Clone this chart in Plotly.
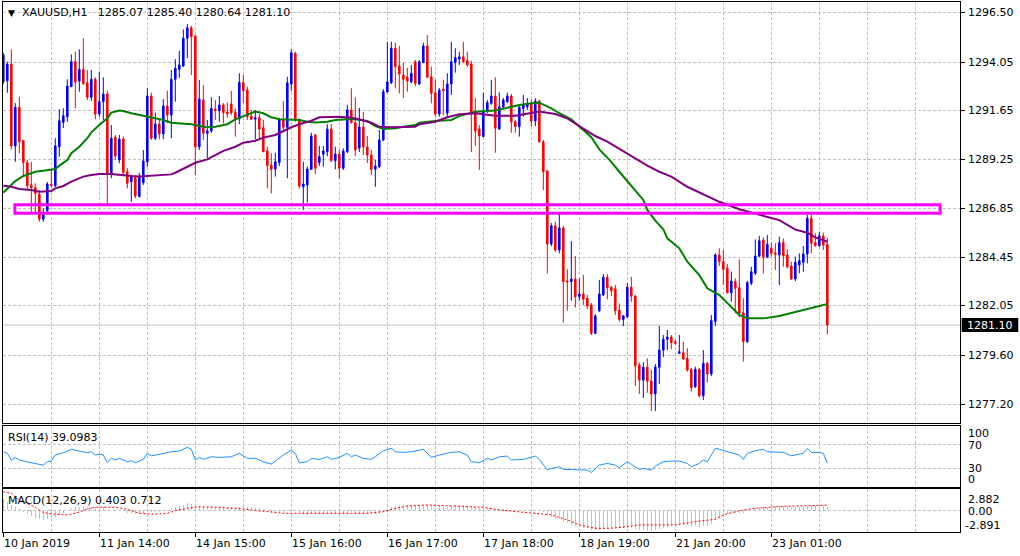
import plotly.graph_objects as go
from plotly.subplots import make_subplots

FONT = "DejaVu Sans"
GRID = "#C0C0C0"
GRID_DASH = "3px,2px"

# ---------------- data (XAUUSD H1) ----------------
symbol_title = "XAUUSD,H1"
last_ohlc = "1285.07 1285.40 1280.64 1281.10"
time_labels = ["10 Jan 2019", "11 Jan 14:00", "14 Jan 15:00", "15 Jan 16:00", "16 Jan 17:00",
               "17 Jan 18:00", "18 Jan 19:00", "21 Jan 20:00", "23 Jan 01:00"]
time_label_bars = [0, 24, 48, 72, 96, 120, 144, 168, 192]

opens = [
    1293.08, 1293.13, 1293.95, 1289.92, 1291.82, 1290.18, 1289.10, 1288.00, 1287.86, 1287.55,
    1286.32, 1286.73, 1288.03, 1287.96, 1289.88, 1291.08, 1291.36, 1292.84, 1294.07, 1293.12,
    1293.69, 1293.03, 1292.32, 1293.20, 1291.49, 1292.10, 1292.48, 1288.54, 1290.35, 1289.23,
    1290.26, 1288.65, 1288.16, 1288.41, 1287.42, 1288.11, 1289.14, 1292.38, 1290.30, 1291.00,
    1290.51, 1291.89, 1291.44, 1293.20, 1293.69, 1293.86, 1295.22, 1295.74, 1295.33, 1289.88,
    1292.18, 1290.54, 1290.66, 1291.74, 1291.66, 1291.94, 1291.59, 1291.99, 1291.59, 1291.25,
    1293.05, 1292.67, 1291.39, 1291.23, 1291.31, 1290.82, 1289.67, 1288.98, 1288.78, 1289.10,
    1291.23, 1290.84, 1292.97, 1294.48, 1291.23, 1287.91, 1288.00, 1288.77, 1290.46, 1289.10,
    1289.51, 1289.64, 1290.75, 1289.19, 1289.52, 1288.82, 1289.64, 1291.69, 1291.06, 1289.82,
    1290.85, 1289.87, 1289.47, 1288.77, 1288.90, 1290.21, 1292.58, 1293.03, 1294.73, 1293.86,
    1293.41, 1293.30, 1293.08, 1294.07, 1292.97, 1294.02, 1294.84, 1293.33, 1292.54, 1291.49,
    1292.71, 1291.53, 1292.97, 1294.04, 1294.20, 1294.31, 1294.12, 1293.95, 1291.64, 1290.75,
    1290.38, 1291.61, 1292.02, 1292.38, 1290.75, 1291.84, 1292.10, 1292.38, 1291.11, 1290.87,
    1291.76, 1291.84, 1292.02, 1291.15, 1292.13, 1290.13, 1288.69, 1285.09, 1285.99, 1284.80,
    1285.88, 1283.27, 1283.24, 1283.37, 1282.50, 1282.63, 1282.42, 1282.09, 1280.69, 1281.81,
    1282.58, 1283.45, 1282.96, 1282.88, 1281.84, 1281.38, 1281.51, 1282.96, 1282.53, 1279.13,
    1278.39, 1279.02, 1278.35, 1277.71, 1279.02, 1279.87, 1280.40, 1280.51, 1280.28, 1279.71,
    1279.74, 1279.46, 1278.92, 1278.07, 1278.92, 1277.62, 1279.22, 1278.69, 1281.27, 1284.55,
    1284.22, 1283.90, 1282.69, 1283.24, 1282.94, 1281.71, 1280.28, 1283.16, 1283.65, 1284.50,
    1285.29, 1284.44, 1284.88, 1284.66, 1284.55, 1285.16, 1284.55, 1284.01, 1283.37, 1284.06,
    1284.19, 1284.60, 1286.36, 1285.16, 1285.01, 1285.49, 1285.07]

highs = [
    1294.50, 1294.07, 1294.68, 1292.03, 1292.34, 1290.21, 1289.23, 1289.14, 1288.08, 1287.75,
    1286.85, 1288.14, 1288.74, 1290.30, 1291.72, 1291.77, 1293.20, 1294.43, 1294.56, 1294.68,
    1295.22, 1293.66, 1293.66, 1293.30, 1293.58, 1293.30, 1292.64, 1290.95, 1290.46, 1290.46,
    1290.38, 1288.83, 1288.49, 1288.49, 1288.59, 1289.72, 1292.76, 1292.54, 1291.56, 1291.20,
    1292.22, 1292.64, 1293.66, 1294.19, 1294.60, 1295.66, 1295.92, 1295.83, 1295.38, 1293.17,
    1292.92, 1291.20, 1292.32, 1292.18, 1292.38, 1292.03, 1292.05, 1292.63, 1291.77, 1293.50,
    1293.41, 1292.84, 1291.69, 1291.69, 1291.49, 1291.20, 1289.88, 1289.56, 1289.59, 1291.31,
    1292.13, 1293.33, 1294.68, 1294.56, 1291.28, 1289.14, 1288.90, 1290.57, 1290.51, 1289.92,
    1289.92, 1290.99, 1291.00, 1289.88, 1289.72, 1289.80, 1291.94, 1292.76, 1292.32, 1291.79,
    1291.59, 1290.41, 1289.72, 1289.23, 1290.71, 1292.72, 1295.05, 1295.05, 1295.00, 1294.84,
    1294.02, 1293.77, 1293.91, 1294.15, 1294.15, 1295.00, 1295.38, 1293.82, 1293.17, 1292.77,
    1293.17, 1293.50, 1295.05, 1294.73, 1294.56, 1295.05, 1294.56, 1294.12, 1292.27, 1290.95,
    1292.54, 1292.18, 1293.17, 1293.30, 1292.56, 1292.28, 1292.54, 1292.48, 1291.20, 1291.94,
    1292.43, 1292.28, 1292.18, 1292.27, 1292.18, 1290.21, 1288.74, 1286.13, 1286.19, 1286.60,
    1285.98, 1283.85, 1285.24, 1284.50, 1283.40, 1283.57, 1282.58, 1282.19, 1281.64, 1283.32,
    1283.61, 1283.61, 1283.02, 1283.07, 1282.17, 1281.60, 1283.17, 1283.48, 1282.58, 1279.25,
    1279.27, 1279.46, 1278.89, 1279.18, 1281.05, 1280.61, 1280.86, 1280.61, 1280.36, 1280.61,
    1280.28, 1279.96, 1278.99, 1279.05, 1278.99, 1279.87, 1279.28, 1281.60, 1284.63, 1284.88,
    1284.80, 1284.11, 1283.73, 1283.40, 1284.34, 1282.42, 1283.28, 1283.97, 1285.32, 1285.49,
    1285.42, 1285.53, 1285.16, 1285.13, 1285.45, 1285.37, 1284.83, 1284.22, 1284.47, 1284.63,
    1284.99, 1286.52, 1286.55, 1285.62, 1285.70, 1285.65, 1285.40]

lows = [
    1292.97, 1292.54, 1289.75, 1289.14, 1289.56, 1288.41, 1287.75, 1286.57, 1286.60, 1286.19,
    1286.19, 1286.67, 1287.90, 1287.90, 1289.39, 1290.80, 1291.11, 1292.82, 1291.77, 1292.59,
    1292.92, 1292.18, 1292.13, 1291.23, 1291.36, 1291.20, 1287.01, 1288.33, 1289.23, 1289.07,
    1288.49, 1287.83, 1287.17, 1287.34, 1287.41, 1288.00, 1288.90, 1290.21, 1290.21, 1290.25,
    1290.25, 1291.03, 1290.30, 1292.10, 1293.27, 1293.81, 1294.24, 1293.41, 1288.49, 1289.72,
    1290.21, 1289.33, 1290.56, 1291.20, 1291.11, 1291.03, 1291.30, 1291.44, 1290.38, 1291.00,
    1292.05, 1291.20, 1291.20, 1290.25, 1290.25, 1289.61, 1287.83, 1287.59, 1288.41, 1288.93,
    1290.62, 1288.33, 1292.64, 1291.11, 1287.83, 1286.77, 1287.13, 1288.74, 1288.54, 1288.93,
    1288.90, 1289.42, 1289.14, 1288.77, 1288.33, 1288.74, 1289.56, 1291.03, 1289.42, 1289.62,
    1289.47, 1289.08, 1288.49, 1287.91, 1288.83, 1290.16, 1292.53, 1292.97, 1292.76, 1292.51,
    1292.27, 1292.59, 1293.00, 1292.87, 1292.92, 1294.00, 1293.27, 1292.02, 1291.36, 1291.36,
    1291.44, 1291.36, 1292.43, 1293.53, 1293.91, 1293.99, 1293.82, 1289.62, 1289.92, 1288.74,
    1290.36, 1291.54, 1291.94, 1289.59, 1290.71, 1291.77, 1292.03, 1290.57, 1290.57, 1290.38,
    1291.36, 1291.69, 1290.87, 1290.90, 1290.07, 1287.75, 1283.65, 1284.99, 1284.70, 1284.63,
    1281.22, 1281.81, 1282.30, 1281.96, 1282.30, 1282.09, 1281.89, 1280.61, 1280.66, 1281.74,
    1282.53, 1282.37, 1282.53, 1281.60, 1281.27, 1281.05, 1281.45, 1282.24, 1278.10, 1277.71,
    1277.51, 1277.77, 1276.87, 1276.87, 1278.20, 1279.53, 1279.87, 1279.91, 1280.12, 1279.68,
    1279.38, 1278.80, 1277.82, 1278.00, 1277.54, 1277.41, 1278.26, 1278.59, 1281.05, 1284.01,
    1283.07, 1282.66, 1282.25, 1281.68, 1281.48, 1279.30, 1280.22, 1283.07, 1283.57, 1284.45,
    1283.65, 1284.40, 1284.47, 1283.81, 1283.07, 1283.97, 1283.90, 1283.32, 1283.27, 1283.65,
    1283.73, 1284.14, 1284.63, 1284.96, 1284.96, 1284.80, 1280.64]

closes = [
    1294.40, 1293.95, 1289.92, 1291.82, 1290.13, 1289.10, 1287.96, 1287.86, 1287.59, 1286.32,
    1286.52, 1288.05, 1287.96, 1289.92, 1291.16, 1291.41, 1292.87, 1294.07, 1293.08, 1293.69,
    1293.00, 1292.32, 1293.20, 1291.49, 1292.10, 1292.48, 1288.54, 1290.30, 1289.42, 1290.26,
    1288.62, 1288.08, 1288.41, 1287.46, 1288.41, 1289.18, 1292.38, 1290.30, 1291.00, 1290.51,
    1291.89, 1291.44, 1293.20, 1293.74, 1293.91, 1295.22, 1295.74, 1295.30, 1289.88, 1292.23,
    1290.54, 1290.66, 1291.77, 1291.66, 1291.94, 1291.56, 1291.51, 1291.56, 1291.25, 1293.05,
    1292.64, 1291.36, 1291.23, 1291.31, 1290.75, 1289.64, 1288.95, 1288.77, 1289.14, 1291.23,
    1290.84, 1293.03, 1294.51, 1291.20, 1287.95, 1288.05, 1288.78, 1290.41, 1288.82, 1289.39,
    1289.67, 1290.75, 1289.19, 1289.52, 1288.82, 1289.67, 1291.69, 1291.06, 1289.72, 1290.85,
    1289.87, 1289.47, 1288.77, 1288.93, 1290.21, 1292.59, 1293.07, 1294.73, 1293.82, 1293.46,
    1293.20, 1293.12, 1293.50, 1293.00, 1294.07, 1294.84, 1293.30, 1292.51, 1291.49, 1292.67,
    1292.64, 1292.97, 1294.07, 1294.27, 1294.31, 1294.07, 1293.91, 1291.57, 1290.66, 1290.41,
    1291.66, 1292.05, 1292.38, 1290.79, 1291.85, 1292.18, 1292.38, 1291.11, 1290.87, 1291.82,
    1291.96, 1292.01, 1291.15, 1292.13, 1290.13, 1288.65, 1285.09, 1285.99, 1284.80, 1285.88,
    1283.24, 1283.23, 1283.37, 1282.50, 1282.63, 1282.38, 1282.04, 1280.69, 1281.55, 1282.63,
    1283.45, 1282.94, 1282.79, 1281.81, 1281.38, 1281.55, 1282.96, 1282.52, 1279.10, 1278.39,
    1279.02, 1278.33, 1277.71, 1279.04, 1279.87, 1280.40, 1280.51, 1280.23, 1280.20, 1279.79,
    1279.43, 1278.89, 1278.02, 1278.92, 1277.62, 1279.22, 1278.69, 1281.32, 1284.55, 1284.22,
    1283.85, 1282.69, 1283.27, 1282.91, 1281.68, 1280.28, 1283.19, 1283.73, 1284.50, 1285.25,
    1284.44, 1285.08, 1284.63, 1284.58, 1285.16, 1284.50, 1283.97, 1283.37, 1284.19, 1284.27,
    1284.60, 1286.36, 1285.13, 1285.01, 1285.49, 1285.04, 1281.10]

bars = list(range(len(closes)))

# moving averages (green = faster, purple = slower), read at sample bars
ma_fast_bars = [0, 2, 3, 5, 7, 8, 10, 12, 13, 14, 16, 17, 19, 21, 22, 24, 26, 27, 29, 30, 32, 35, 37, 40,
                42, 45, 47, 50, 52, 53, 56, 58, 61, 63, 65, 67, 69, 72, 74, 76, 78, 81, 83, 86, 88, 91,
                93, 95, 98, 100, 103, 104, 108, 112, 114, 118, 123, 126, 129, 132, 134, 137, 139, 142,
                144, 147, 149, 152, 154, 157, 160, 161, 163, 165, 166, 169, 171, 174, 176, 179, 181,
                184, 186, 190, 194, 197, 200, 205, 206]
ma_fast_vals = [1287.62, 1288.00, 1288.19, 1288.44, 1288.57, 1288.65, 1288.70, 1288.74, 1288.78, 1288.95,
                1289.23, 1289.56, 1289.88, 1290.30, 1290.59, 1290.95, 1291.28, 1291.56, 1291.66, 1291.64,
                1291.53, 1291.41, 1291.33, 1291.20, 1291.06, 1291.02, 1290.99, 1290.87, 1290.84, 1290.87,
                1290.99, 1291.23, 1291.44, 1291.61, 1291.53, 1291.33, 1291.23, 1291.23, 1291.20, 1291.11,
                1291.08, 1291.11, 1291.20, 1291.23, 1291.23, 1291.15, 1290.90, 1290.75, 1290.79, 1290.87,
                1290.95, 1291.06, 1291.15, 1291.20, 1291.39, 1291.61, 1291.66, 1291.80, 1291.94, 1292.02,
                1292.05, 1291.77, 1291.53, 1291.23, 1290.87, 1290.35, 1289.75, 1289.14, 1288.65, 1287.95,
                1287.26, 1286.77, 1286.24, 1285.82, 1285.37, 1284.88, 1284.22, 1283.56, 1282.91, 1282.58,
                1282.17, 1281.60, 1281.43, 1281.43, 1281.55, 1281.68, 1281.84, 1282.09, 1282.12]

ma_slow_bars = [0, 2, 4, 7, 9, 12, 13, 15, 17, 20, 22, 24, 27, 29, 32, 34, 37, 39, 42, 43, 46, 48, 51, 53,
                55, 58, 60, 63, 65, 68, 70, 72, 74, 77, 79, 82, 84, 87, 89, 92, 94, 97, 100, 103, 104,
                108, 111, 114, 118, 123, 128, 132, 134, 138, 141, 144, 148, 151, 154, 161, 164, 167, 171,
                175, 179, 184, 189, 194, 198, 201, 203, 206]
ma_slow_vals = [1287.96, 1287.91, 1287.80, 1287.75, 1287.67, 1287.70, 1287.83, 1287.95, 1288.16, 1288.41,
                1288.49, 1288.54, 1288.54, 1288.49, 1288.44, 1288.41, 1288.46, 1288.49, 1288.52, 1288.60,
                1288.87, 1289.09, 1289.26, 1289.47, 1289.68, 1289.88, 1290.08, 1290.18, 1290.33, 1290.46,
                1290.66, 1290.84, 1290.99, 1291.16, 1291.33, 1291.36, 1291.36, 1291.31, 1291.23, 1291.06,
                1290.87, 1290.84, 1290.84, 1290.87, 1290.99, 1291.11, 1291.33, 1291.48, 1291.53, 1291.41,
                1291.41, 1291.56, 1291.61, 1291.49, 1291.28, 1290.90, 1290.41, 1290.13, 1289.77, 1288.95,
                1288.65, 1288.41, 1287.91, 1287.55, 1287.17, 1286.80, 1286.52, 1286.27, 1285.80, 1285.65,
                1285.42, 1285.20]

# highlighted resistance zone
zone_low, zone_high = 1286.61, 1287.03
zone_start_bar, zone_end_bar = 2.9, 234.2
last_price = 1281.10

price_tick_labels = ["1296.50", "1294.05", "1291.65", "1289.25", "1286.85",
                     "1284.45", "1282.05", "1279.60", "1277.20"]

# RSI(14)
rsi_bars = [0, 1, 2, 3, 4, 6, 7, 10, 11, 12, 13, 15, 17, 19, 21, 22, 23, 24, 25, 26, 27, 28, 29, 31, 32,
            33, 35, 36, 37, 39, 40, 42, 44, 46, 47, 48, 49, 50, 52, 54, 57, 59, 61, 63, 65, 67, 68, 70,
            72, 73, 74, 76, 77, 79, 81, 82, 84, 86, 87, 88, 90, 92, 93, 95, 97, 98, 100, 102, 105, 106,
            107, 109, 112, 114, 116, 117, 119, 121, 122, 124, 126, 127, 130, 132, 133, 134, 136, 137,
            139, 140, 142, 144, 146, 147, 149, 151, 153, 154, 156, 157, 159, 160, 162, 163, 165, 167,
            169, 171, 172, 173, 174, 175, 176, 177, 178, 179, 181, 182, 184, 185, 186, 188, 190, 191,
            193, 195, 197, 199, 200, 201, 202, 204, 205, 206]
rsi_vals = [57.3, 54.7, 43.7, 48.1, 43.7, 39.9, 39.2, 35.4, 40.9, 42.0, 51.9, 55.7, 61.3, 58.5, 55.7,
            57.3, 51.9, 53.5, 51.9, 39.9, 46.5, 43.7, 46.5, 40.9, 42.5, 39.2, 44.8, 54.7, 50.7, 53.0,
            54.7, 57.3, 58.5, 64.6, 61.3, 43.7, 48.1, 44.8, 49.1, 48.1, 49.1, 54.7, 46.5, 46.5, 40.9,
            37.1, 42.0, 51.9, 60.1, 54.7, 39.2, 40.9, 46.5, 44.8, 49.1, 44.8, 48.1, 54.7, 49.1, 51.9,
            46.5, 44.8, 49.1, 59.0, 62.9, 57.3, 56.3, 57.3, 61.3, 54.7, 48.1, 51.9, 56.3, 57.3, 51.9,
            40.9, 39.2, 46.5, 43.7, 49.1, 50.2, 43.7, 44.8, 48.1, 50.2, 44.8, 27.2, 30.0, 32.6, 28.4,
            28.4, 27.2, 27.2, 23.4, 35.4, 38.2, 35.4, 31.0, 40.9, 36.6, 28.4, 30.0, 27.2, 33.8, 40.9,
            42.0, 42.0, 38.2, 32.6, 35.4, 38.2, 43.7, 40.9, 51.9, 62.9, 61.3, 57.3, 55.7, 51.9, 44.8,
            54.7, 59.0, 61.3, 57.3, 57.3, 56.3, 50.7, 53.5, 54.7, 62.9, 56.3, 56.3, 54.7, 39.1]
rsi_last = "39.0983"

# MACD(12,26,9): main histogram per bar, signal line samples
macd_hist = [
    1.5, 1.2, 0.8, 0.5, 0.2,
    -0.2, -0.5, -0.8, -1.0, -1.2, -1.3, -1.2, -1.1,
    -0.9, -0.6, -0.3, 0.0, 0.3, 0.4, 0.5, 0.5,
    0.5, 0.5, 0.4, 0.4, 0.4, 0.2, 0.1, 0.0, 0.0, -0.1,
    -0.3, -0.4, -0.5, -0.5, -0.5, -0.2, -0.2, -0.2, -0.2, 0.0,
    0.1, 0.3, 0.5, 0.6, 0.8, 1.0, 0.9, 0.6, 0.6, 0.5,
    0.45, 0.45, 0.5, 0.5, 0.5, 0.5, 0.5, 0.45, 0.5, 0.55, 0.5, 0.4, 0.35, 0.3, 0.2, 0.0,
    -0.2, -0.3, -0.2, -0.2, -0.1, 0.1, 0.1, -0.2, -0.5, -0.6, -0.5, -0.5, -0.5, -0.5, -0.4,
    -0.4, -0.4, -0.5, -0.5, -0.3, -0.2, -0.3, -0.3, -0.3, -0.4, -0.4, -0.5, -0.4, -0.2,
    0.1, 0.4, 0.6, 0.7, 0.7, 0.7, 0.7, 0.7, 0.7, 0.8, 0.8, 0.7, 0.6, 0.6, 0.5, 0.5, 0.6, 0.7,
    0.8, 0.8, 0.8, 0.6, 0.4, 0.3, 0.3, 0.3, 0.3, 0.2,
    0.2, 0.2, 0.2, 0.1, 0.0, 0.0, 0.1, 0.1, 0.1, 0.1, 0.0, -0.2,
    -0.6, -0.9, -1.1, -1.2, -1.5, -1.7, -1.9, -2.1, -2.2, -2.3, -2.4, -2.6, -2.6, -2.6, -2.5,
    -2.5, -2.4, -2.4, -2.4, -2.4, -2.3, -2.3, -2.5, -2.6, -2.6,
    -2.7, -2.7, -2.6, -2.5, -2.4, -2.2, -2.1, -2.0, -2.0, -2.0, -2.0, -2.1, -2.1, -2.2, -2.1,
    -2.1, -1.8, -1.3, -1.0, -0.7,
    -0.5, -0.4, -0.3, -0.3, -0.4, -0.1, 0.1, 0.3, 0.4, 0.5, 0.5, 0.6, 0.6, 0.6, 0.6, 0.6,
    0.5, 0.5, 0.5, 0.5, 0.6, 0.7, 0.7, 0.7, 0.7, 0.40]
signal_bars = [0, 2, 4, 8, 10, 13, 16, 18, 21, 23, 28, 31, 34, 38, 41, 43, 46, 49, 53, 58, 62, 66, 70,
               91, 95, 98, 101, 106, 112, 116, 120, 124, 128, 133, 137, 141, 144, 148, 152, 156, 159,
               164, 168, 173, 178, 180, 184, 188, 193, 198, 203, 206]
signal_vals = [2.52, 2.3, 1.41, 0.43, -0.29, -0.51, -0.60, -0.38, 0.16, 0.43, 0.43, 0.16, -0.38, -0.51,
               -0.38, -0.03, 0.29, 0.51, 0.43, 0.29, 0.07, -0.16, -0.38, -0.38, -0.16, 0.29, 0.60, 0.74,
               0.60, 0.51, 0.43, 0.07, -0.16, -0.38, -0.60, -1.27, -1.94, -2.39, -2.39, -2.17, -1.94,
               -1.94, -1.94, -1.50, -1.18, -0.60, -0.03, 0.29, 0.51, 0.60, 0.65, 0.71]
macd_last, signal_last = "0.403", "0.712"
macd_max, macd_min = 2.882, -2.891

assert len(opens) == len(highs) == len(lows) == len(closes) == len(macd_hist) == 207
assert len(ma_fast_bars) == len(ma_fast_vals) and len(ma_slow_bars) == len(ma_slow_vals)
assert len(rsi_bars) == len(rsi_vals) and len(signal_bars) == len(signal_vals)

# ---------------- figure ----------------
fig = make_subplots(rows=3, cols=1, shared_xaxes=True, vertical_spacing=0.0)

fig.add_trace(go.Candlestick(
    x=bars, open=opens, high=highs, low=lows, close=closes,
    increasing=dict(line=dict(color="#0000FF", width=1), fillcolor="#0000FF"),
    decreasing=dict(line=dict(color="#FF0000", width=1), fillcolor="#FF0000"),
    whiskerwidth=0, showlegend=False, hoverinfo="skip"), row=1, col=1)
fig.add_trace(go.Scatter(x=ma_fast_bars, y=ma_fast_vals, mode="lines",
                         line=dict(color="#008000", width=2), showlegend=False, hoverinfo="skip"),
              row=1, col=1)
fig.add_trace(go.Scatter(x=ma_slow_bars, y=ma_slow_vals, mode="lines",
                         line=dict(color="#800080", width=2), showlegend=False, hoverinfo="skip"),
              row=1, col=1)

fig.add_trace(go.Scatter(x=rsi_bars, y=rsi_vals, mode="lines",
                         line=dict(color="#1E90FF", width=1), showlegend=False, hoverinfo="skip"),
              row=2, col=1)

fig.add_trace(go.Bar(x=bars, y=macd_hist, width=0.28, marker=dict(color="#C0C0C0", line=dict(width=0)),
                     showlegend=False, hoverinfo="skip"), row=3, col=1)
fig.add_trace(go.Scatter(x=signal_bars, y=signal_vals, mode="lines",
                         line=dict(color="#FF0000", width=1, dash="2px,2px"),
                         showlegend=False, hoverinfo="skip"), row=3, col=1)

W, H = 1020, 556
ML, MR, MT, MB = 3, 60, 2, 24
PW, PH = W - ML - MR, H - MT - MB


def px_x(px):
    return (px - ML) / PW


def px_y(py):
    return (H - MB - py) / PH


xr = [-0.08, 239.17]
x_common = dict(range=xr, showline=True, mirror=True, linecolor="black", linewidth=1,
                showgrid=True, gridcolor=GRID, griddash=GRID_DASH, gridwidth=1, zeroline=False,
                tickmode="array", tickvals=time_label_bars, showticklabels=False,
                minor=dict(tickmode="linear", tick0=0, dtick=12, showgrid=True, gridcolor=GRID,
                           griddash=GRID_DASH, gridwidth=1, ticks=""),
                rangeslider=dict(visible=False), automargin=False)
fig.update_layout(
    xaxis=dict(**x_common, ticks=""),
    xaxis2=dict(**x_common, ticks=""),
    xaxis3=dict(**x_common, ticks="outside", ticklen=4, tickcolor="black"),
    yaxis=dict(domain=[px_y(423.3), 1.0], range=[1276.263, 1297.008], side="right",
               tickmode="array", tickvals=[float(v) for v in price_tick_labels],
               showticklabels=False, ticks="outside", ticklen=4, tickcolor="black",
               showline=True, mirror=True, linecolor="black", linewidth=1,
               showgrid=True, gridcolor=GRID, griddash=GRID_DASH, zeroline=False, automargin=False),
    yaxis2=dict(domain=[px_y(486.7), px_y(425.7)], range=[0, 100], side="right",
                tickmode="array", tickvals=[30, 70], showticklabels=False, ticks="",
                showline=True, mirror=True, linecolor="black", linewidth=1,
                showgrid=True, gridcolor=GRID, griddash=GRID_DASH, zeroline=False, automargin=False),
    yaxis3=dict(domain=[0.0, px_y(489)], range=[macd_min, macd_max], side="right",
                tickmode="array", tickvals=[0], showticklabels=False, ticks="",
                showline=True, mirror=True, linecolor="black", linewidth=1,
                showgrid=True, gridcolor=GRID, griddash=GRID_DASH, zeroline=False, automargin=False),
    width=W, height=H, margin=dict(l=ML, r=MR, t=MT, b=MB, pad=0),
    plot_bgcolor="white", paper_bgcolor="white",
    font=dict(family=FONT, size=11, color="black"),
    boxgap=0.45, bargap=0, showlegend=False, hovermode=False,
)

shapes = [
    dict(type="line", xref="x domain", yref="y", x0=0, x1=1, y0=last_price, y1=last_price,
         line=dict(color="#C0C0C0", width=1), layer="below"),
    dict(type="rect", xref="x", yref="y", x0=zone_start_bar, x1=zone_end_bar, y0=zone_low, y1=zone_high,
         line=dict(color="#FF00FF", width=3), fillcolor="rgba(0,0,0,0)", layer="above"),
    dict(type="rect", xref="paper", yref="paper", x0=px_x(961.7), x1=px_x(1018.3),
         y0=px_y(332), y1=px_y(318), line=dict(width=0), fillcolor="black", layer="above"),
]
fig.update_layout(shapes=shapes)

TXT = dict(family=FONT, size=11, color="black")
ann = []
ann.append(dict(xref="paper", yref="paper", x=px_x(11), y=px_y(12.5), text="▼", showarrow=False,
                xanchor="center", yanchor="middle", font=dict(family=FONT, size=9, color="black")))
ann.append(dict(xref="paper", yref="paper", x=px_x(20), y=px_y(12.5),
                text=symbol_title + "\u00a0\u00a0\u00a0" + last_ohlc, showarrow=False,
                xanchor="left", yanchor="middle", font=TXT))
# price scale labels
for lab in price_tick_labels:
    ann.append(dict(xref="paper", yref="y", x=px_x(966), y=float(lab), text=lab, showarrow=False,
                    xanchor="left", yanchor="middle", font=TXT))
ann.append(dict(xref="paper", yref="paper", x=px_x(990), y=px_y(325.1), text=f"{last_price:.2f}",
                showarrow=False, xanchor="center", yanchor="middle",
                font=dict(family=FONT, size=11, color="white")))
ann.append(dict(xref="paper", yref="paper", x=px_x(6), y=px_y(437), text=f"RSI(14) {rsi_last}",
                showarrow=False, xanchor="left", yanchor="middle", font=TXT))
ann.append(dict(xref="paper", yref="paper", x=px_x(6), y=px_y(500.5),
                text=f"MACD(12,26,9) {macd_last} {signal_last}", showarrow=False,
                xanchor="left", yanchor="middle", font=TXT))
for txt, py, pxl in [("100", 433, 966), ("70", 445, 966), ("30", 468.3, 966), ("0", 479.8, 966),
                     (f"{macd_max:.3f}", 499, 966), ("0.00", 511.5, 966), (f"{macd_min:.3f}", 525, 963)]:
    ann.append(dict(xref="paper", yref="paper", x=px_x(pxl), y=px_y(py), text=txt, showarrow=False,
                    xanchor="left", yanchor="middle", font=TXT))
# time axis labels (left-aligned at their tick, as in the terminal)
for b, lab in zip(time_label_bars, time_labels):
    ann.append(dict(xref="x3", yref="paper", x=b, y=px_y(543.5), text=lab, showarrow=False,
                    xanchor="left", yanchor="middle", xshift=-1, font=TXT))
fig.update_layout(annotations=ann)

fig.write_html("out.html", config={"displayModeBar": False, "staticPlot": True},
               post_script="document.body.style.margin='0px';document.body.style.padding='0px';")
